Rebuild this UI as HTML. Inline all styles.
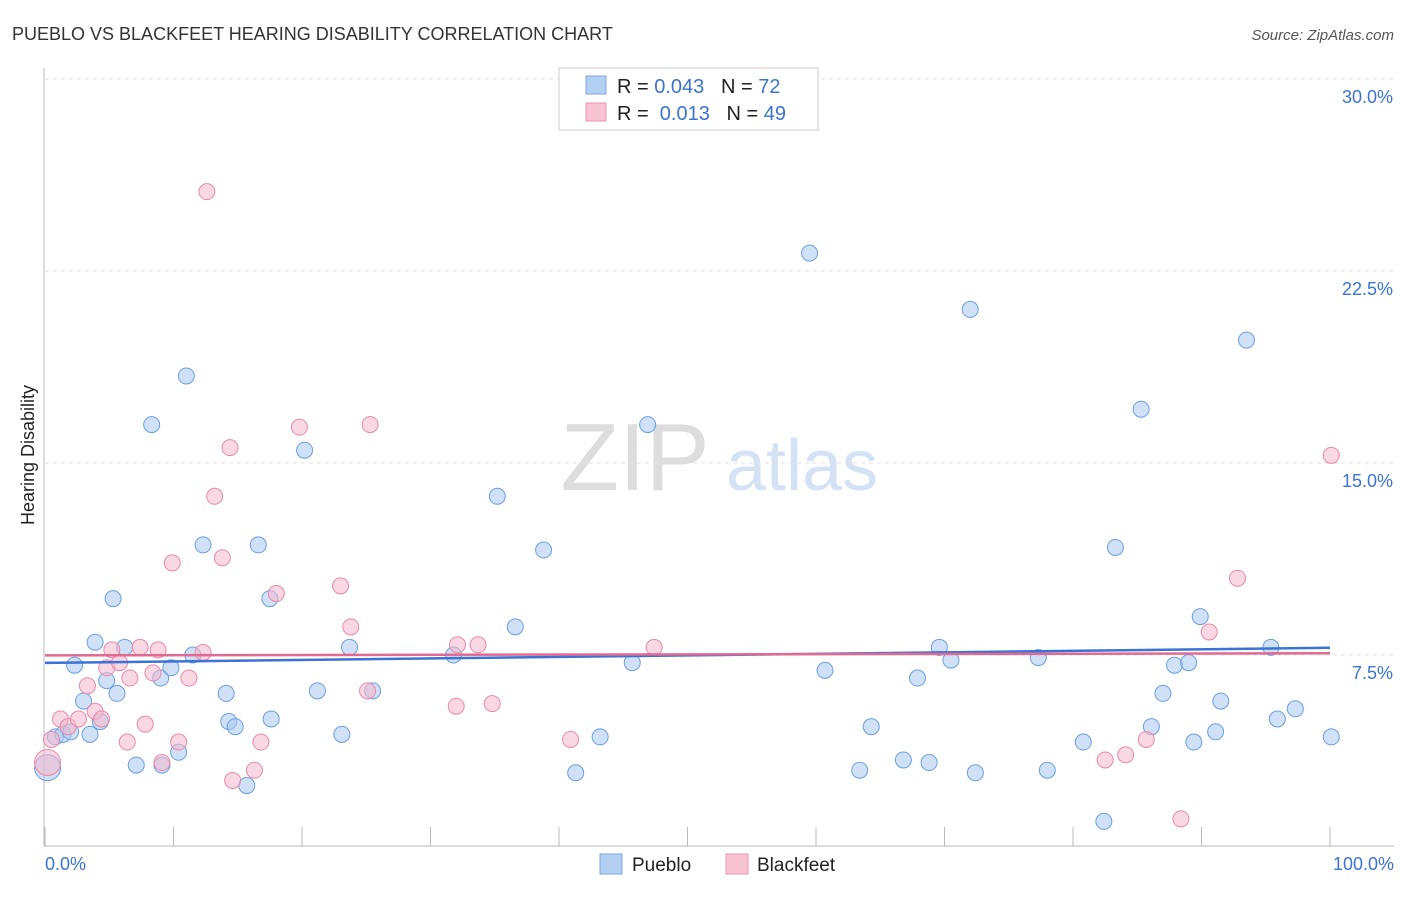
<!DOCTYPE html>
<html><head><meta charset="utf-8"><style>
body{margin:0;background:#fff;font-family:"Liberation Sans",sans-serif;}
svg text{font-family:"Liberation Sans",sans-serif;}
</style></head><body>
<svg id="chart" width="1406" height="892">
<text x="12" y="40" font-size="18" fill="#333">PUEBLO VS BLACKFEET HEARING DISABILITY CORRELATION CHART</text>
<text x="1394" y="40" font-size="15" fill="#555" text-anchor="end" font-style="italic">Source: ZipAtlas.com</text>
<text x="34" y="455" font-size="18" fill="#222" text-anchor="middle" transform="rotate(-90 34 455)">Hearing Disability</text>
<g><text x="635" y="490" font-size="96" fill="#ddd" text-anchor="middle" font-family="Liberation Serif,serif">ZIP</text><text x="802" y="490" font-size="72" fill="#d3e2f5" text-anchor="middle">atlas</text></g>
<g id="grid"></g><g id="pts"></g><g id="lines"></g>
<g>
<rect x="559" y="68" width="259" height="62" fill="#fff" stroke="#ccc"/>
<rect x="586" y="76" width="20" height="18" fill="#b3cff2" stroke="#7aa6e0"/>
<text x="617" y="93" font-size="20" fill="#222">R = <tspan fill="#3b73d4">0.043</tspan>&#160;&#160;&#160;N = <tspan fill="#3b73d4">72</tspan></text>
<rect x="586" y="103" width="20" height="18" fill="#f8c3d3" stroke="#e996b1"/>
<text x="617" y="120" font-size="20" fill="#222">R = &#160;<tspan fill="#3b73d4">0.013</tspan>&#160;&#160;&#160;N = <tspan fill="#3b73d4">49</tspan></text>
</g>
<g>
<rect x="600" y="854" width="22" height="20" fill="#b3cff2" stroke="#7aa6e0"/><text x="632" y="871" font-size="19" fill="#222">Pueblo</text>
<rect x="726" y="854" width="22" height="20" fill="#f8c3d3" stroke="#e996b1"/><text x="757" y="871" font-size="19" fill="#222">Blackfeet</text>
</g>
</svg>
<script>
const yTicks=[7.5,15,22.5,30];
const yTickLabels=["7.5%","15.0%","22.5%","30.0%"];
const xTickLabels=["0.0%","100.0%"];
const puebloX=[0.2,0.8,1.4,2,2.3,3,3.5,3.9,4.3,4.8,5.3,5.6,6.2,7.1,8.3,9,9.1,9.8,10.4,11,11.5,12.3,14.1,14.3,14.8,15.7,16.6,17.5,17.6,20.2,21.2,23.1,23.7,25.5,31.8,35.2,36.6,38.8,41.3,43.2,45.7,46.9,59.5,60.7,63.4,64.3,66.8,67.9,68.8,69.6,70.5,72,72.4,77.3,78,80.8,82.4,83.3,85.3,86.1,87,87.9,89,89.4,89.9,91.1,91.5,93.5,95.4,95.9,97.3,100.1];
const puebloY=[3.1,4.3,4.4,4.5,7.1,5.7,4.4,8,4.9,6.5,9.7,6,7.8,3.2,16.5,6.6,3.2,7,3.7,18.4,7.5,11.8,6,4.9,4.7,2.4,11.8,9.7,5,15.5,6.1,4.4,7.8,6.1,7.5,13.7,8.6,11.6,2.9,4.3,7.2,16.5,23.2,6.9,3,4.7,3.4,6.6,3.3,7.8,7.3,21,2.9,7.4,3,4.1,1,11.7,17.1,4.7,6,7.1,7.2,4.1,9,4.5,5.7,19.8,7.8,5,5.4,4.3];
const blackX=[0.2,0.5,1.2,1.8,2.6,3.3,3.9,4.4,4.8,5.2,5.8,6.4,6.6,7.4,7.8,8.4,8.8,9.1,9.9,10.4,11.2,12.3,12.6,13.2,13.8,14.4,14.6,16.3,16.8,18,19.8,23,23.8,25.1,25.3,32,32.1,33.7,34.8,40.9,47.4,82.5,84.1,85.7,88.4,90.6,92.8,100.1];
const blackY=[3.3,4.2,5,4.7,5,6.3,5.3,5,7,7.7,7.2,4.1,6.6,7.8,4.8,6.8,7.7,3.3,11.1,4.1,6.6,7.6,25.6,13.7,11.3,15.6,2.6,3,4.1,9.9,16.4,10.2,8.6,6.1,16.5,5.5,7.9,7.9,5.6,4.2,7.8,3.4,3.6,4.2,1.1,8.4,10.5,15.3];
const NS="http://www.w3.org/2000/svg";
const X0=45,X1=1330,Y0=847,Y30=79;
const sx=v=>X0+(X1-X0)*v/100, sy=v=>Y0-(Y0-Y30)*v/30;
function mk(t,a,p){const e=document.createElementNS(NS,t);for(const k in a)e.setAttribute(k,a[k]);p.appendChild(e);return e;}
const grid=document.getElementById('grid');
yTicks.forEach((t,i)=>{
 const l=mk('line',{x1:45,x2:1394,y1:sy(t),y2:sy(t),stroke:'#e2e2e2','stroke-dasharray':'4,4'},grid);
 
 
 const tx=mk('text',{x:1393,y:sy(t)+24,'font-size':18,fill:'#3b73d4','text-anchor':'end'},grid);tx.textContent=yTickLabels[i];
 
 
});
const ax=mk('line',{x1:44,x2:44,y1:68,y2:846,stroke:'#bbb'},grid);


const bx=mk('line',{x1:44,x2:1394,y1:846,y2:846,stroke:'#bbb'},grid);


for(let i=0;i<=10;i++){const t=mk('line',{x1:sx(i*10),x2:sx(i*10),y1:827,y2:846,stroke:'#bbb'},grid);
 
 }
[[0,'start',45],[1,'end',1394]].forEach(([i,a,x])=>{const t=mk('text',{x:x,y:870,'font-size':18,fill:'#3b73d4','text-anchor':a},grid);t.textContent=xTickLabels[i];
 
 });
const pts=document.getElementById('pts');
function series(xs,ys,fill,stroke,name){xs.forEach((x,i)=>{const r=(i===0)?13:8;
 const c=mk('circle',{cx:sx(x),cy:sy(ys[i]),r:r,fill:fill,'fill-opacity':0.55,stroke:stroke,'stroke-width':1},pts);
 
 });}
series(puebloX,puebloY,'#a9c8f0','#6a9fe0','pueblo-point');
series(blackX,blackY,'#f6b8cc','#e88aa8','blackfeet-point');
function fit(xs,ys){const n=xs.length;let mx=0,my=0;xs.forEach((x,i)=>{mx+=x;my+=ys[i];});mx/=n;my/=n;let a=0,b=0;xs.forEach((x,i)=>{a+=(x-mx)*(ys[i]-my);b+=(x-mx)**2;});const s=a/b;return [my-s*mx,my+s*(100-mx)];}
const lines=document.getElementById('lines');
[[puebloX,puebloY,'#3a72d8','pueblo-trend-line'],[blackX,blackY,'#e26a90','blackfeet-trend-line']].forEach(([xs,ys,c,n])=>{const [a,b]=fit(xs,ys);
 const l=mk('line',{x1:sx(0),x2:sx(100),y1:sy(a),y2:sy(b),stroke:c,'stroke-width':2.5},lines);
 
 });
</script>
</body></html>
